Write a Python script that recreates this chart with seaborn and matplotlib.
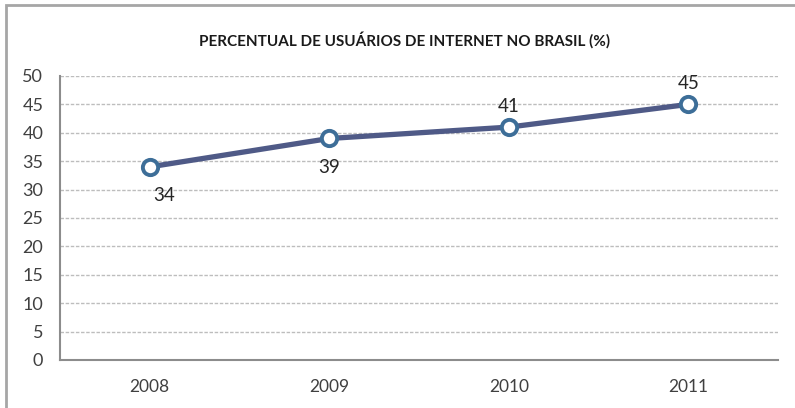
import matplotlib
matplotlib.use("Agg")
import matplotlib.pyplot as plt
import seaborn as sns
import pandas as pd
from matplotlib.patches import Rectangle

years = ["2008", "2009", "2010", "2011"]
values = [34, 39, 41, 45]
label_pos = ["below", "below", "above", "above"]
title = "PERCENTUAL DE USUÁRIOS DE INTERNET NO BRASIL (%)"

sns.set_theme(style="white")
plt.rcParams["font.family"] = ["Lato", "DejaVu Sans"]

df = pd.DataFrame({"ano": years, "valor": values})

fig = plt.figure(figsize=(7.95, 4.08), dpi=100)
ax = fig.add_axes([60/795, 48/408, 718/795, 284/408])

# outer frame
fig.patches.append(Rectangle((6/795, -0.05), 1.2, (408-5)/408 + 0.05, transform=fig.transFigure,
                             fill=False, edgecolor="#a6a6a6", linewidth=2, zorder=0))

sns.lineplot(data=df, x="ano", y="valor", ax=ax, color="#4f5a87", linewidth=3.8,
             marker="o", markersize=11, markerfacecolor="white",
             markeredgecolor="#3d6e98", markeredgewidth=2.8, zorder=5)

ax.set_xlim(-0.5, 3.5)
ax.set_ylim(0, 50)
ax.set_yticks(range(0, 51, 5))
ax.set_xticks(range(len(years)))
ax.set_xticklabels(years)
ax.set_xticks([-0.5, 0.5, 1.5, 2.5, 3.5], minor=True)
ax.tick_params(axis="x", which="major", length=0, pad=14, labelsize=12.5, colors="#404040")
ax.tick_params(axis="x", which="minor", length=5, width=1.2, color="#888888", direction="out")
ax.tick_params(axis="y", which="major", length=5, width=1.2, color="#888888", direction="out",
               pad=7, labelsize=13, labelcolor="#404040")
ax.set_xlabel("")
ax.set_ylabel("")

for y in range(5, 51, 5):
    ax.axhline(y, color="#bdbdbd", linewidth=1.0, linestyle=(0, (2.5, 1.2)), zorder=1)

for s in ["top", "right"]:
    ax.spines[s].set_visible(False)
for s in ["left", "bottom"]:
    ax.spines[s].set_color("#8c8c8c")
    ax.spines[s].set_linewidth(1.5)

for i, (v, p) in enumerate(zip(values, label_pos)):
    if p == "below":
        ax.annotate(str(v), (i, v), xytext=(14 if i == 0 else 0, -29), textcoords="offset pixels",
                    ha="center", va="center", fontsize=13.5, color="#262626")
    else:
        ax.annotate(str(v), (i, v), xytext=(0, 21), textcoords="offset pixels",
                    ha="center", va="center", fontsize=13.5, color="#262626")

fig.text(405/795, (408-40)/408, title, ha="center", va="center", fontsize=11,
         fontweight="bold", color="#1a1a1a")

fig.savefig("out.png", dpi=100)
